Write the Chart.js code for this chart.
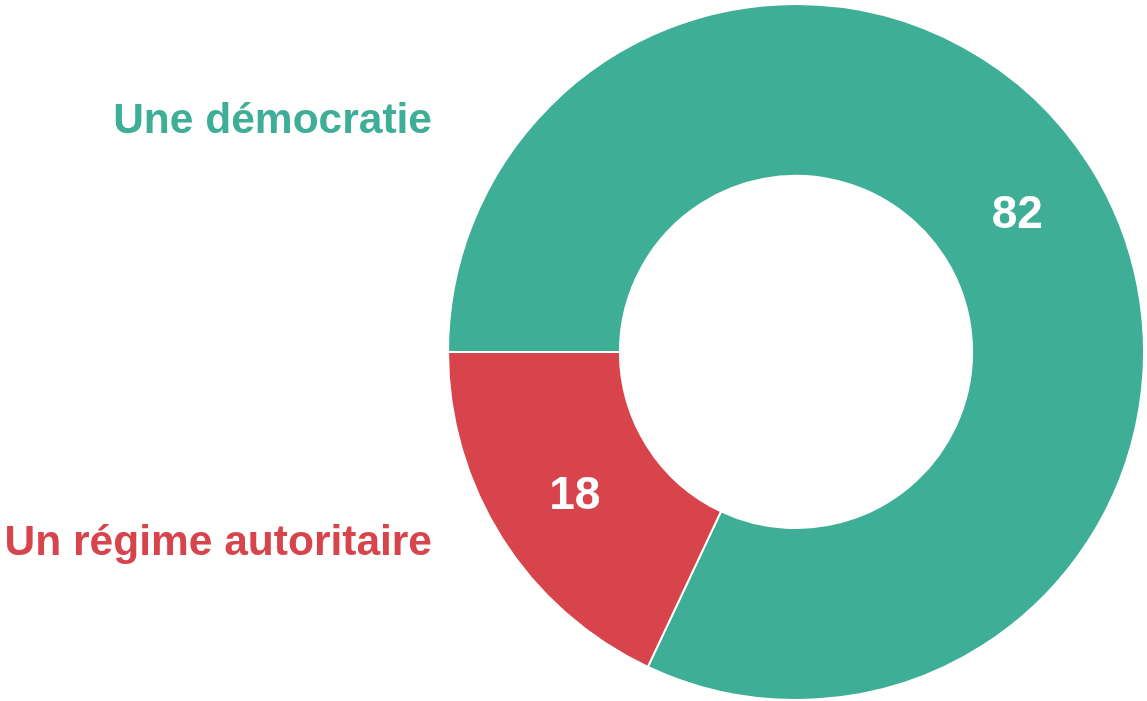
<!DOCTYPE html>
<html>
<head>
<meta charset="utf-8">
<script src="https://cdn.jsdelivr.net/npm/chart.js@4"></script>
<style>
  html, body { margin: 0; padding: 0; background: #fff; }
  #wrap { width: 1147px; height: 701px; }
</style>
</head>
<body>
<div id="wrap"><canvas id="graficoDonut"></canvas></div>
<script>
const categorias = ["Une démocratie", "Un régime autoritaire"];
const valores = [82, 18];
const colores = ["#3eae96", "#d7444b"];

const FUENTE = '"Liberation Sans", Arial, sans-serif';

// Etiquetas: valor dentro del arco y nombre a la izquierda
const etiquetasPlugin = {
    id: "etiquetas",
    afterDatasetsDraw(chart) {
        const ctx = chart.ctx;
        const meta = chart.getDatasetMeta(0);
        const area = chart.chartArea;
        ctx.save();
        const tamValor = 46;
        ctx.font = "bold " + tamValor + "px " + FUENTE;
        ctx.textAlign = "center";
        ctx.textBaseline = "alphabetic";
        ctx.fillStyle = "#fff";
        meta.data.forEach((arc, i) => {
            const p = arc.tooltipPosition();
            // centrar verticalmente los digitos
            ctx.fillText(String(valores[i]), p.x, p.y + tamValor * 0.358);
        });

        // nombres de categoria
        const cy = meta.data[0].y;
        const posY = [cy - 219, cy + 203];
        ctx.font = "bold 42.5px " + FUENTE;
        ctx.textAlign = "right";
        categorias.forEach((c, i) => {
            ctx.fillStyle = colores[i];
            ctx.fillText(c, area.left - 15, posY[i]);
        });
        ctx.restore();
    }
};

new Chart(document.getElementById("graficoDonut"), {
    type: "doughnut",
    data: {
        labels: categorias,
        datasets: [{
            data: valores,
            backgroundColor: colores,
            borderColor: "#fff",
            borderWidth: 2
        }]
    },
    options: {
        responsive: true,
        maintainAspectRatio: false,
        animation: false,
        rotation: -90,
        cutout: "50.6%",
        layout: { padding: { left: 447, right: 2, top: 3, bottom: 0 } },
        plugins: {
            legend: { display: false },
            tooltip: { enabled: false }
        }
    },
    plugins: [etiquetasPlugin]
});
</script>
</body>
</html>
